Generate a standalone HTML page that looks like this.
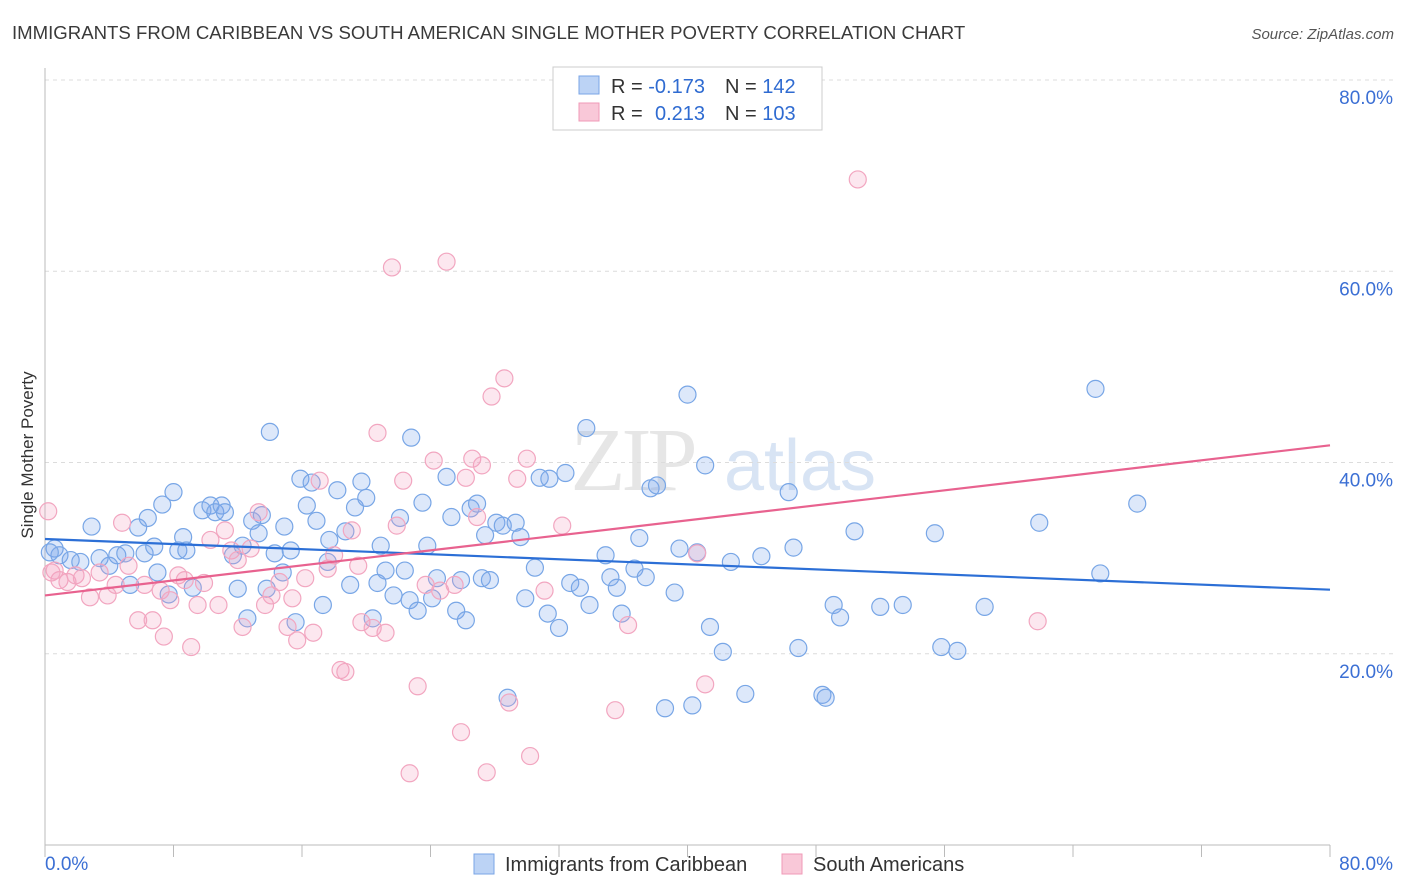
<!DOCTYPE html>
<html><head><meta charset="utf-8"><style>
body{margin:0;background:#fff;font-family:"Liberation Sans",sans-serif;}
svg{display:block}
</style></head><body>
<svg id="chart" width="1406" height="892" xmlns="http://www.w3.org/2000/svg">
<text x="12" y="39" font-size="18.6" fill="#3a3a3a">IMMIGRANTS FROM CARIBBEAN VS SOUTH AMERICAN SINGLE MOTHER POVERTY CORRELATION CHART</text>
<text x="1394" y="39" font-size="15" fill="#555" font-style="italic" text-anchor="end">Source: ZipAtlas.com</text>
<text x="33" y="455" font-size="17" fill="#333" text-anchor="middle" transform="rotate(-90 33 455)">Single Mother Poverty</text>
<g><text x="632" y="490" font-size="90" fill="#e6e6e6" font-family="Liberation Serif" text-anchor="middle" letter-spacing="-4">ZIP</text><text x="800" y="490" font-size="72" fill="#d8e4f4" text-anchor="middle">atlas</text></g>
<g id="grid"></g><g id="axes"></g><g id="pts"></g><g id="trends"></g>
<g>
<rect x="553" y="67" width="269" height="63" fill="#fff" stroke="#ccc"/>
<rect x="579" y="76" width="20" height="18" fill="#bcd3f5" stroke="#7aa5e6"/>
<rect x="579" y="103" width="20" height="18" fill="#f9c8d8" stroke="#f09ab7"/>
<text x="611" y="93" font-size="20" fill="#333">R = <tspan fill="#2f6bd1">-0.173</tspan><tspan x="725">N = </tspan><tspan fill="#2f6bd1">142</tspan></text>
<text x="611" y="120" font-size="20" fill="#333">R = <tspan x="655" fill="#2f6bd1">0.213</tspan><tspan x="725">N = </tspan><tspan fill="#2f6bd1">103</tspan></text>
</g>
<g>
<rect x="474" y="854" width="20" height="20" fill="#bcd3f5" stroke="#7aa5e6"/>
<text x="505" y="871" font-size="20" fill="#333">Immigrants from Caribbean</text>
<rect x="782" y="854" width="20" height="20" fill="#f9c8d8" stroke="#f09ab7"/>
<text x="813" y="871" font-size="20" fill="#333">South Americans</text>
</g>
</svg>
<script>
const yTicks=[20,40,60,80];
const xTickLabels=["0.0%","80.0%"];
const blue=[[0.6,31.0],[0.9,30.3],[1.6,29.8],[2.2,29.6],[2.9,33.3],[3.4,30.0],[4.0,29.2],[4.5,30.3],[5.0,30.5],[5.3,27.2],[5.8,33.2],[6.2,30.5],[6.4,34.2],[6.8,31.2],[7.0,28.5],[7.3,35.6],[7.7,26.2],[8.0,36.9],[8.3,30.8],[8.6,32.2],[8.8,30.8],[9.2,26.9],[9.8,35.0],[10.3,35.5],[10.6,34.8],[11.0,35.5],[11.2,34.8],[11.7,30.3],[12.0,26.8],[12.3,31.3],[12.6,23.7],[12.9,33.9],[13.3,32.6],[13.5,34.5],[13.8,26.8],[14.0,43.2],[14.3,30.5],[14.8,28.5],[14.9,33.3],[15.3,30.8],[15.6,23.3],[15.9,38.3],[16.3,35.5],[16.6,37.9],[16.9,33.9],[17.3,25.1],[17.6,29.6],[17.7,31.9],[18.2,37.1],[18.7,32.8],[19.0,27.2],[19.3,35.3],[19.7,38.0],[20.0,36.3],[20.4,23.7],[20.9,31.3],[20.7,27.4],[21.2,28.7],[21.7,26.1],[22.1,34.2],[22.4,28.7],[22.7,25.6],[22.8,42.6],[23.2,24.5],[23.5,35.8],[23.8,31.3],[24.1,25.8],[24.4,27.9],[25.0,38.5],[25.3,34.3],[25.6,24.5],[25.9,27.7],[26.2,23.5],[26.5,35.2],[26.9,35.7],[27.2,27.9],[27.4,32.4],[27.7,27.7],[28.1,33.7],[28.5,33.4],[28.8,15.4],[29.3,33.7],[29.6,32.2],[29.9,25.8],[30.5,29.0],[30.8,38.4],[31.3,24.2],[31.4,38.3],[32.0,22.7],[32.4,38.9],[32.7,27.4],[33.3,26.9],[33.7,43.6],[33.9,25.1],[34.9,30.3],[35.2,28.0],[35.6,26.9],[35.9,24.2],[36.7,28.9],[37.0,32.1],[37.4,28.0],[37.7,37.3],[38.1,37.6],[38.6,14.3],[39.2,26.4],[39.5,31.0],[40.0,47.1],[40.3,14.6],[40.6,30.6],[41.1,39.7],[41.4,22.8],[42.2,20.2],[42.7,29.6],[43.6,15.8],[44.6,30.2],[46.3,36.9],[46.6,31.1],[46.9,20.6],[48.4,15.7],[48.6,15.4],[49.1,25.1],[49.5,23.8],[50.4,32.8],[52.0,24.9],[53.4,25.1],[55.4,32.6],[55.8,20.7],[56.8,20.3],[58.5,24.9],[61.9,33.7],[65.4,47.7],[65.7,28.4],[68.0,35.7],[0.3,30.6]];
const pink=[[0.2,34.9],[0.6,28.7],[0.9,27.7],[1.4,27.5],[1.9,28.2],[2.3,27.9],[2.8,25.9],[3.4,28.5],[3.9,26.1],[4.4,27.2],[4.8,33.7],[5.2,29.2],[5.8,23.5],[6.2,27.2],[6.7,23.5],[7.2,26.6],[7.4,21.8],[7.8,25.6],[8.3,28.2],[8.7,27.7],[9.1,20.7],[9.5,25.1],[9.9,27.4],[10.3,31.9],[10.8,25.1],[11.2,32.9],[11.6,30.8],[12.0,29.8],[12.3,22.8],[12.8,31.0],[13.3,34.8],[13.7,25.1],[14.1,26.1],[14.6,27.5],[15.1,22.8],[15.4,25.8],[15.7,21.4],[16.2,27.9],[16.7,22.2],[17.1,38.1],[17.6,28.9],[18.0,30.3],[18.4,18.3],[18.7,18.1],[19.1,32.9],[19.5,29.2],[19.7,23.3],[20.4,22.7],[20.7,43.1],[21.2,22.2],[21.6,60.4],[21.9,33.4],[22.3,38.1],[22.7,7.5],[23.2,16.6],[23.7,27.2],[24.2,40.2],[24.6,26.6],[25.0,61.0],[25.5,27.2],[25.9,11.8],[26.2,38.4],[26.6,40.4],[26.9,34.3],[27.2,39.7],[27.5,7.6],[27.8,46.9],[28.6,48.8],[28.9,14.9],[29.4,38.3],[30.0,40.4],[30.2,9.3],[31.1,26.6],[32.2,33.4],[35.5,14.1],[36.3,23.0],[40.6,30.5],[41.1,16.8],[50.6,69.6],[61.8,23.4],[0.4,28.5]];
const blueTrend=[[0,32.0],[80,26.7]];
const pinkTrend=[[0,26.1],[80,41.8]];
const NS="http://www.w3.org/2000/svg";
const X0=45,X1=1330,Y0=845,Y80=80;
function sx(v){return X0+(X1-X0)*v/80;}
function sy(v){return Y0-(Y0-Y80)*v/80;}
function mk(tag,attrs,parent){const e=document.createElementNS(NS,tag);for(const k in attrs)e.setAttribute(k,attrs[k]);document.getElementById(parent).appendChild(e);return e;}
yTicks.forEach(t=>{
 const g=mk('line',{x1:X0,x2:1394,y1:sy(t),y2:sy(t),stroke:'#dcdcdc','stroke-dasharray':'4 4'},'grid');
 
 
 const l=mk('text',{x:1393,y:sy(t)+24,'font-size':19,fill:'#3b6fd4','text-anchor':'end'},'grid');
 l.textContent=t.toFixed(1)+'%';
 
 
});
const ax=mk('line',{x1:X0,x2:X1,y1:Y0,y2:Y0,stroke:'#bbb'},'axes');


const ay=mk('line',{x1:X0,x2:X0,y1:68,y2:Y0,stroke:'#bbb'},'axes');


for(let i=0;i<=10;i++){
 const t=mk('line',{x1:sx(i*8),x2:sx(i*8),y1:Y0,y2:Y0+12,stroke:'#bbb'},'axes');
 
 
}
[[0,'start'],[80,'end']].forEach((p,i)=>{
 const t=mk('text',{x:i?1393:45,y:870,'font-size':19,fill:'#3b6fd4','text-anchor':p[1]},'axes');
 t.textContent=xTickLabels[i];
 
 
});
blue.forEach(p=>{
 const c=mk('circle',{cx:sx(p[0]),cy:sy(p[1]),r:8.5,fill:'rgba(120,165,235,0.25)',stroke:'#78a6e6','stroke-width':1.2},'pts');
 
 
});
pink.forEach(p=>{
 const c=mk('circle',{cx:sx(p[0]),cy:sy(p[1]),r:8.5,fill:'rgba(245,160,190,0.25)',stroke:'#f2a6c0','stroke-width':1.2},'pts');
 
 
});
const bt=mk('line',{x1:sx(blueTrend[0][0]),y1:sy(blueTrend[0][1]),x2:sx(blueTrend[1][0]),y2:sy(blueTrend[1][1]),stroke:'#2c6fd6','stroke-width':2.2},'trends');


const pt=mk('line',{x1:sx(pinkTrend[0][0]),y1:sy(pinkTrend[0][1]),x2:sx(pinkTrend[1][0]),y2:sy(pinkTrend[1][1]),stroke:'#e8628f','stroke-width':2.2},'trends');


</script>
</body></html>
